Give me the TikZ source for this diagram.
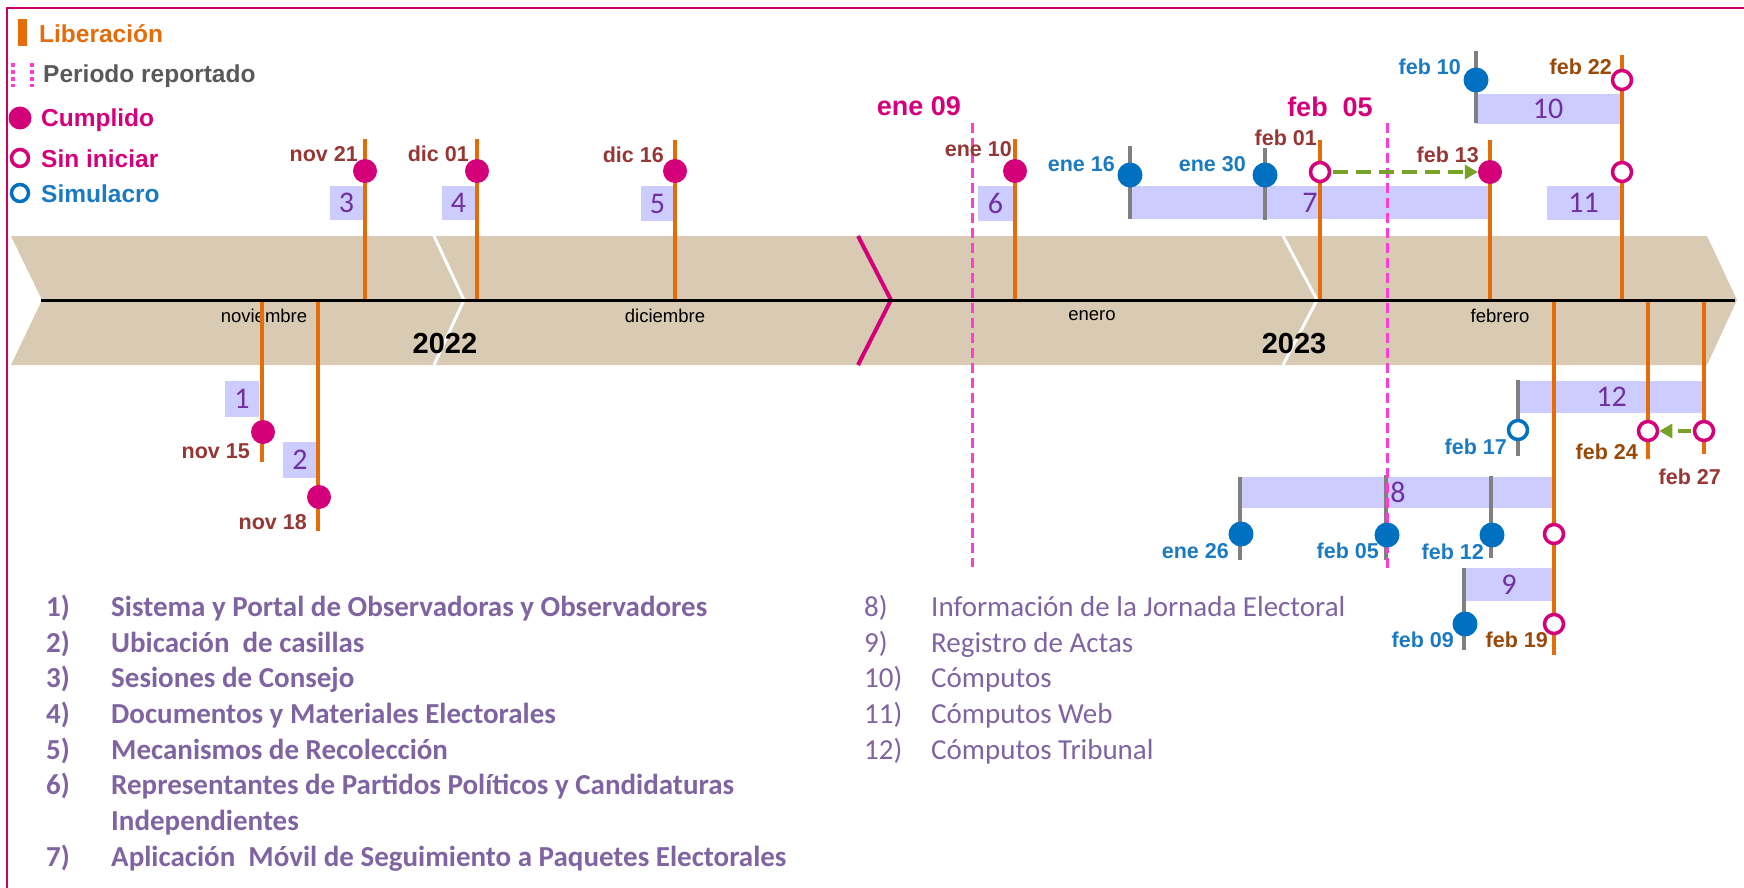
\documentclass[tikz,border=0pt]{standalone}
\usepackage{fontspec}
\setmainfont{Liberation Sans}
\newfontfamily\calfont{Carlito}
\usetikzlibrary{arrows.meta}
\definecolor{orangeC}{HTML}{E46C0A}
\definecolor{magC}{HTML}{D4007A}
\definecolor{frameC}{HTML}{CC0066}
\definecolor{pinkC}{HTML}{FF3DD0}
\definecolor{blueC}{HTML}{0070C0}
\definecolor{blueT}{HTML}{1A7AC2}
\definecolor{grayC}{HTML}{808080}
\definecolor{tanC}{HTML}{D8CAB3}
\definecolor{lavC}{HTML}{CCCCFF}
\definecolor{numC}{HTML}{7030A0}
\definecolor{dredC}{HTML}{953735}
\definecolor{brownC}{HTML}{984807}
\definecolor{greenC}{HTML}{77A228}
\definecolor{listC}{HTML}{8064A2}
\definecolor{greyT}{HTML}{595959}
\tikzset{
  lib/.style={draw=orangeC, line width=4.5pt},
  gl/.style={draw=grayC, line width=4pt},
  periodo/.style={draw=pinkC, line width=3pt, dash pattern=on 10pt off 5pt},
  done/.style={circle, fill=magC, minimum size=24pt, inner sep=0pt},
  todo/.style={circle, draw=magC, fill=white, line width=3.5pt, minimum size=19pt, inner sep=0pt},
  sim/.style={circle, fill=blueC, minimum size=25pt, inner sep=0pt},
  simo/.style={circle, draw=blueC, fill=white, line width=3.5pt, minimum size=19pt, inner sep=0pt},
  nbox/.style={fill=lavC, inner sep=0pt, text=numC, font=\calfont\fontsize{30}{30}\selectfont},
  dl/.style={font=\fontsize{21.5}{21.5}\selectfont\bfseries, inner sep=0pt, anchor=base east},
  per/.style={font=\fontsize{27}{27}\selectfont\bfseries, text=magC, inner sep=0pt},
  leg/.style={font=\fontsize{24.5}{24.5}\selectfont\bfseries, inner sep=0pt, anchor=base west},
  mon/.style={font=\fontsize{18.5}{18.5}\selectfont, inner sep=0pt},
  yr/.style={font=\fontsize{29}{29}\selectfont\bfseries, inner sep=0pt},
  lb/.style={font=\calfont\fontsize{29}{29}\selectfont\bfseries, text=listC, inner sep=0pt, anchor=base west},
  lr/.style={font=\calfont\fontsize{29}{29}\selectfont, text=listC, inner sep=0pt, anchor=base west},
  garrow/.style={draw=greenC, line width=4pt, dash pattern=on 15pt off 8pt, -{Triangle[length=13pt,width=14pt]}}
}
\begin{document}
\begin{tikzpicture}[x=1pt,y=-1pt]
\useasboundingbox (0,0) rectangle (1744,888);
% frame
\draw[frameC, line width=2pt] (6.5,888) -- (6.5,8.5) -- (1744,8.5);

% band
\fill[tanC] (11,236) -- (1707,236) -- (1737,300) -- (1707,365) -- (11,365) -- (42,300) -- cycle;
\draw[white, line width=3pt] (434,236) -- (464,300) -- (434,365);
\draw[white, line width=3pt] (1283,236) -- (1317,300) -- (1283,365);
\draw[magC, line width=4pt] (858,236) -- (891,300) -- (858,365);

\node[mon] (mnov) at (264,316) {noviembre};
\node[mon] (mdic) at (665,316) {diciembre};
\node[mon] (mene) at (1092,316) {enero};
\node[mon] (mfeb) at (1500,316) {febrero};
\node[yr] (y22) at (445,344) {2022};
\node[yr] (y23) at (1294,344) {2023};

% legend
\fill[orangeC] (18,19) rectangle (27,46);
\draw[pinkC, line width=3.5pt, dash pattern=on 4pt off 3pt] (13,63) -- (13,87);
\draw[pinkC, line width=3.5pt, dash pattern=on 4pt off 3pt] (32,63) -- (32,87);
\node[done, minimum size=23pt] (lgdone) at (20,118) {};
\node[todo, minimum size=17pt] (lgtodo) at (20,158) {};
\node[simo, minimum size=17pt] (lgsim) at (20,193) {};
\node[leg, text=orangeC] (tlib) at (39,43) {Liberación};
\node[leg, text=greyT] (tper) at (43,83) {Periodo reportado};
\node[leg, text=magC] (tcum) at (41,127) {Cumplido};
\node[leg, text=magC] (tsin) at (41,167) {Sin iniciar};
\node[leg, text=blueT] (tsim) at (41,202) {Simulacro};

% bars
\node[nbox, minimum width=34pt, minimum height=36pt] (b1) at (242,399) {1};
\node[nbox, minimum width=34pt, minimum height=36pt] (b2) at (300,460) {2};
\node[nbox, minimum width=33pt, minimum height=34pt] (b3) at (346.5,203) {3};
\node[nbox, minimum width=33pt, minimum height=34pt] (b4) at (458.5,203) {4};
\node[nbox, minimum width=33pt, minimum height=35pt] (b5) at (657.5,203.5) {5};
\node[nbox, minimum width=35pt, minimum height=35pt] (b6) at (995.5,203.5) {6};
\node[nbox, minimum width=360pt, minimum height=33pt] (b7) at (1310,202.5) {7};
\node[nbox, minimum width=313pt, minimum height=31pt] (b8) at (1396.5,492.5) {\hspace*{3pt}8};
\node[nbox, minimum width=88pt, minimum height=33pt] (b9) at (1509,584.5) {9};
\node[nbox, minimum width=144pt, minimum height=30pt] (b10) at (1548,109) {10};
\node[nbox, minimum width=73pt, minimum height=34pt] (b11) at (1583.5,203) {11};
\node[nbox, minimum width=183pt, minimum height=32pt] (b12) at (1611.5,397) {12};

% upper lines
\draw[lib] (365,139) -- (365,300);
\draw[lib] (477,139) -- (477,300);
\draw[lib] (675,140) -- (675,300);
\draw[lib] (1015,139) -- (1015,300);
\draw[gl] (1130,146) -- (1130,219);
\draw[gl] (1265,148) -- (1265,220);
\draw[lib] (1320,140) -- (1320,300);
\draw[lib] (1490,140) -- (1490,300);
\draw[gl] (1476,51) -- (1476,123);
\draw[lib] (1622,55) -- (1622,300);
% lower lines
\draw[lib] (262,300) -- (262,462);
\draw[lib] (318,300) -- (318,531);
\draw[gl] (1518,380) -- (1518,456);
\draw[lib] (1648,300) -- (1648,459);
\draw[lib] (1704,300) -- (1704,454);
\draw[gl] (1240,477) -- (1240,560);
\draw[gl] (1386,475) -- (1386,560);
\draw[gl] (1491,476) -- (1491,558);
\draw[lib] (1554,300) -- (1554,655);
\draw[gl] (1464,568) -- (1464,650);

% timeline
\draw[black, line width=3pt] (41,300) -- (1735,300);

% reported period
\draw[periodo] (972,123) -- (972,567);
\draw[periodo] (1387,123) -- (1387,570);
\node[per] (pene) at (919,106) {ene 09};
\node[per] (pfeb) at (1330,107) {feb\ \ 05};

% markers
\node[done] (c3) at (365,171) {};
\node[done] (c4) at (477,171) {};
\node[done] (c5) at (675,171) {};
\node[done] (c6) at (1015,171) {};
\node[sim] (c16) at (1130,175) {};
\node[sim] (c30) at (1265,175) {};
\node[todo] (c01) at (1320,172) {};
\node[done] (c13) at (1490,172) {};
\node[sim] (c10) at (1476,80) {};
\node[todo] (c22a) at (1622,80) {};
\node[todo] (c22b) at (1622,172) {};
\node[done] (c1) at (263,432) {};
\node[done] (c2) at (319,497) {};
\node[simo] (c17) at (1518,430) {};
\node[todo] (c24) at (1648,431) {};
\node[todo] (c27) at (1704,431) {};
\node[sim] (c26) at (1241,534) {};
\node[sim] (c05) at (1387,535) {};
\node[sim] (c12) at (1492,535) {};
\node[todo] (c19a) at (1554,534) {};
\node[todo] (c19b) at (1554,624) {};
\node[sim] (c09) at (1465,624) {};

% arrows
\draw[garrow, shorten <=2pt] (c01) -- (c13);
\draw[garrow, dash pattern=on 13pt off 6pt, shorten <=2pt] (c27) -- (c24);

% date labels
\node[dl, text=dredC] (lnov21) at (358,161) {nov 21};
\node[dl, text=dredC] (ldic01) at (469,161) {dic 01};
\node[dl, text=dredC] (ldic16) at (664,162) {dic 16};
\node[dl, text=dredC] (lene10) at (1012,156) {ene 10};
\node[dl, text=blueT] (lene16) at (1115,171) {ene 16};
\node[dl, text=blueT] (lene30) at (1246,171) {ene 30};
\node[dl, text=dredC] (lfeb01) at (1317,145) {feb 01};
\node[dl, text=dredC] (lfeb13) at (1479,162) {feb 13};
\node[dl, text=blueT] (lfeb10) at (1461,75) {feb 10};
\node[dl, text=brownC] (lfeb22) at (1612,75) {feb 22};
\node[dl, text=dredC] (lnov15) at (250,458) {nov 15};
\node[dl, text=dredC] (lnov18) at (307,529) {nov 18};
\node[dl, text=blueT] (lfeb17) at (1507,454) {feb 17};
\node[dl, text=brownC] (lfeb24) at (1638,459) {feb 24};
\node[dl, text=dredC] (lfeb27) at (1721,484) {feb 27};
\node[dl, text=blueT] (lene26) at (1229,558) {ene 26};
\node[dl, text=blueT] (lfeb05) at (1379,558) {feb 05};
\node[dl, text=blueT] (lfeb12) at (1484,559) {feb 12};
\node[dl, text=brownC] (lfeb19) at (1548,647) {feb 19};
\node[dl, text=blueT] (lfeb09) at (1454,647) {feb 09};

% list left
\node[lb] (n1) at (46,616) {1)};
\node[lb] (t1) at (111,616) {Sistema y Portal de Observadoras y Observadores};
\node[lb] (n2) at (46,652) {2)};
\node[lb] (t2) at (111,652) {Ubicación\ \ de casillas};
\node[lb] (n3) at (46,687) {3)};
\node[lb] (t3) at (111,687) {Sesiones de Consejo};
\node[lb] (n4) at (46,723) {4)};
\node[lb] (t4) at (111,723) {Documentos y Materiales Electorales};
\node[lb] (n5) at (46,759) {5)};
\node[lb] (t5) at (111,759) {Mecanismos de Recolección};
\node[lb] (n6) at (46,794) {6)};
\node[lb] (t6) at (111,794) {Representantes de Partidos Políticos y Candidaturas};
\node[lb] (t6b) at (111,830) {Independientes};
\node[lb] (n7) at (46,866) {7)};
\node[lb] (t7) at (111,866) {Aplicación\ \ Móvil de Seguimiento a Paquetes Electorales};
% list right
\node[lr] (n8) at (864,616) {8)};
\node[lr] (t8) at (931,616) {Información de la Jornada Electoral};
\node[lr] (n9) at (864,652) {9)};
\node[lr] (t9) at (931,652) {Registro de Actas};
\node[lr] (n10) at (864,687) {10)};
\node[lr] (t10) at (931,687) {Cómputos};
\node[lr] (n11) at (864,723) {11)};
\node[lr] (t11) at (931,723) {Cómputos Web};
\node[lr] (n12) at (864,759) {12)};
\node[lr] (t12) at (931,759) {Cómputos Tribunal};
\end{tikzpicture}
\end{document}
